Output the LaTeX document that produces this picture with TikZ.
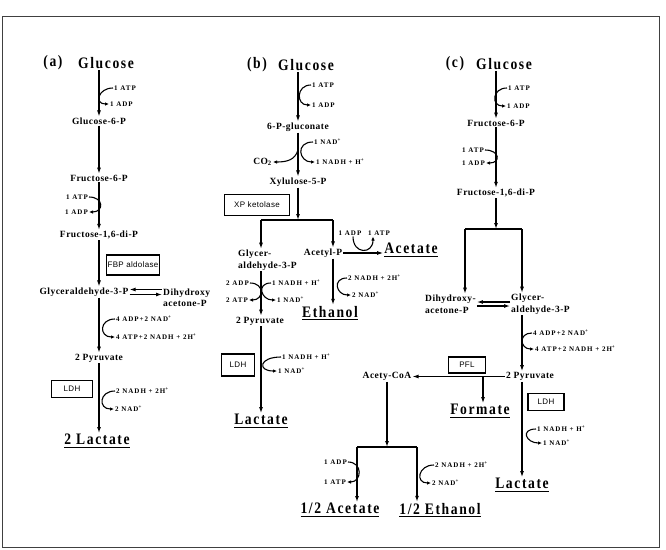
\documentclass[tikz,border=0pt]{standalone}
\usepackage{fontspec}
\setmainfont{Liberation Serif}
\newfontfamily\titlefont[LetterSpace=10, FakeStretch=0.85]{Liberation Serif}
\newfontfamily\metfont[LetterSpace=5]{Liberation Serif}
\newfontfamily\coffont[LetterSpace=14]{Liberation Serif}
\newfontfamily\enzfont[LetterSpace=4]{Liberation Sans}
\usepackage{tikz}
\usetikzlibrary{positioning,arrows.meta,calc}
\newcommand{\plusup}{\textsuperscript{+}}
\newcommand{\ulbar}[1]{\setbox0\hbox{#1}\leavevmode\rlap{\rule[-3pt]{\wd0}{1.2pt}}\box0}

\begin{document}
\begin{tikzpicture}[
      x=1pt, y=-1pt,
      title/.style={font=\titlefont\bfseries\fontsize{16}{18}\selectfont, inner sep=1pt},
      met/.style={font=\metfont\bfseries\fontsize{9.5}{11.5}\selectfont, inner sep=1pt, align=center},
      metl/.style={met, align=left, anchor=west},
      cof/.style={font=\coffont\bfseries\fontsize{7}{8}\selectfont, inner sep=1pt},
      enz/.style={draw, line width=1.1pt, font=\enzfont\fontsize{8}{10}\selectfont, inner sep=0pt},
      flow/.style={line width=1.1pt, -{Latex[length=6pt,width=4pt]}},
      bar/.style={line width=1.1pt},
      side/.style={line width=1.1pt, -{Latex[length=4pt,width=3.5pt]}},
      frame/.style={draw=black!75, line width=0.9pt},
  ]

  \useasboundingbox (0,0) rectangle (666,549);
  \draw[frame] (2,16) rectangle (659,547);

  % (a) homolactic path
  \node[title] (labA)  at ( 53, 63) {(a)};
  \node[title] (gluA)  at (106, 63) {Glucose};
  \node[cof, anchor=west] (atpA1) at (113, 88) {1 ATP};
  \node[cof, anchor=west] (adpA1) at (109,104) {1 ADP};
  \node[met]   (g6pA)  at ( 99,121) {Glucose-6-P};
  \node[met]   (f6pA)  at ( 99,178) {Fructose-6-P};
  \node[cof, anchor=east] (atpA2) at ( 89,197) {1 ATP};
  \node[cof, anchor=east] (adpA2) at ( 89,212) {1 ADP};
  \node[met]   (fdpA)  at ( 99,235) {Fructose-1,6-di-P};
  \node[enz, minimum width=53pt, minimum height=20pt] (fbpA) at (133,265) {FBP aldolase};
  \node[met]   (gapA)  at ( 84,292) {Glyceraldehyde-3-P};
  \node[metl]  (dhapA) at (162,297.5) {Dihydroxy\\acetone-P};
  \node[cof, anchor=west] (nadA1)  at (115,319) {4 ADP+2 NAD\plusup};
  \node[cof, anchor=west] (nadhA1) at (115,337) {4 ATP+2 NADH + 2H\plusup};
  \node[met]   (pyrA)  at ( 99,358) {2 Pyruvate};
  \node[enz, minimum width=41pt, minimum height=17pt] (ldhA) at ( 72,389) {LDH};
  \node[cof, anchor=west] (nadhA2) at (115,391) {2 NADH + 2H\plusup};
  \node[cof, anchor=west] (nadA2)  at (114,409) {2 NAD\plusup};
  \node[title] (lacA)  at ( 97,441) {\ulbar{2 Lactate}};

  \draw[flow] (gluA.south -| g6pA) -- (g6pA.north);
  \draw[flow] (g6pA.south) -- (f6pA.north);
  \draw[flow] (f6pA.south) -- (fdpA.north);
  \draw[flow] (fdpA.south) -- (fdpA.south |- gapA.north);
  \draw[flow] ([yshift=2.5pt]gapA.east -| dhapA.west) -- ([yshift=2.5pt]gapA.east);
  \draw[flow] ([yshift=-2.5pt]gapA.east) -- ([yshift=-2.5pt]gapA.east -| dhapA.west);
  \draw[flow] (gapA.south -| pyrA) -- (pyrA.north);
  \draw[flow] (pyrA.south) -- (pyrA.south |- lacA.north);
  \draw[side] (atpA1.west) .. controls +(-15,0) and +(-15,0) .. (adpA1.west);
  \draw[side] (atpA2.east) .. controls +(15,0) and +(15,0) .. (adpA2.east);
  \draw[side] (nadA1.west) .. controls +(-16,0) and +(-16,0) .. (nadhA1.west);
  \draw[side] (nadhA2.west) .. controls +(-16,0) and +(-16,0) .. (nadA2.west);

  % (b) phosphoketolase path
  \node[title] (labB)  at (257, 65) {(b)};
  \node[title] (gluB)  at (306, 65) {Glucose};
  \node[cof, anchor=west] (atpB1) at (311, 85) {1 ATP};
  \node[cof, anchor=west] (adpB1) at (311,105) {1 ADP};
  \node[met]   (gcnB)  at (298,127) {6-P-gluconate};
  \node[cof, anchor=west] (nadB1)  at (313,142) {1 NAD\plusup};
  \node[cof, anchor=west] (nadhB1) at (315,162) {1 NADH + H\plusup};
  \node[met, anchor=east] (co2B) at (273,162) {CO\textsubscript{2}};
  \node[met]   (xylB)  at (298,182) {Xylulose-5-P};
  \node[enz, minimum width=65pt, minimum height=21pt] (xpkB) at (257,205) {XP ketolase};
  \coordinate (barBl) at (261,220);
  \coordinate (barBr) at (333,220);
  \coordinate (tapB)  at (298,150);
  \node[metl]  (gapB)  at (237,260) {Glycer-\\aldehyde-3-P};
  \node[met]   (acpB)  at (323,253) {Acetyl-P};
  \node[cof]   (adpB2) at (350,233) {1 ADP};
  \node[cof]   (atpB2) at (379,233) {1 ATP};
  \node[title] (aceB)  at (411,250) {\ulbar{Acetate}};
  \node[cof, anchor=west] (nadhB2) at (347,278) {2 NADH + 2H\plusup};
  \node[cof, anchor=west] (nadB2)  at (351,295) {2 NAD\plusup};
  \node[title] (ethB)  at (330,313) {\ulbar{Ethanol}};
  \node[cof, anchor=east] (adpB3)  at (250,283) {2 ADP};
  \node[cof, anchor=east] (atpB3)  at (249,300) {2 ATP};
  \node[cof, anchor=west] (nadhB3) at (271,283) {1 NADH + H\plusup};
  \node[cof, anchor=west] (nadB3)  at (276,300) {1 NAD\plusup};
  \node[met]   (pyrB)  at (260,321) {2 Pyruvate};
  \node[enz, minimum width=33pt, minimum height=22pt] (ldhB) at (238,365) {LDH};
  \node[cof, anchor=west] (nadhB4) at (281,357) {1 NADH + H\plusup};
  \node[cof, anchor=west] (nadB4)  at (277,371) {1 NAD\plusup};
  \node[title] (lacB)  at (261,421) {\ulbar{Lactate}};

  \draw[flow] (gluB.south -| gcnB) -- (gcnB.north);
  \draw[flow] (gcnB.south) -- (gcnB.south |- xylB.north);
  \draw[flow] (xylB.south -| gcnB) -- (gcnB |- barBl);
  \draw[bar]  (barBl) -- (barBr);
  \draw[flow] (barBl) -- (barBl |- gapB.north);
  \draw[flow] (barBr) -- (barBr |- acpB.north);
  \draw[flow] (acpB.east) -- (acpB.east -| aceB.west);
  \draw[flow] (barBr |- acpB.south) -- (barBr |- ethB.north);
  \draw[flow] (barBl |- gapB.south) -- (barBl |- pyrB.north);
  \draw[flow] (barBl |- pyrB.south) -- (barBl |- lacB.north);
  \draw[side] (atpB1.west) .. controls +(-15,0) and +(-15,0) .. (adpB1.west);
  \draw[side] (nadB1.west) .. controls +(-18,0) and +(-16,0) .. (nadhB1.west);
  \draw[side] (tapB) .. controls +(-3,10) and +(14,0) .. (co2B.east);
  \draw[side] ([xshift=3pt]adpB2.south) .. controls +(0,18) and +(0,18) .. ([xshift=-6pt]atpB2.south);
  \draw[side] (nadhB2.west) .. controls +(-15,0) and +(-15,0) .. (nadB2.west);
  \draw[side] (adpB3.east) .. controls +(15,0) and +(15,0) .. (atpB3.east);
  \draw[side] (nadhB3.west) .. controls +(-15,0) and +(-15,0) .. (nadB3.west);
  \draw[side] (nadhB4.west) .. controls +(-22,0) and +(-20,0) .. (nadB4.west);

  % (c) mixed-acid path
  \node[title] (labC)  at (455, 64) {(c)};
  \node[title] (gluC)  at (504, 64) {Glucose};
  \node[cof, anchor=west] (atpC1) at (507, 88) {1 ATP};
  \node[cof, anchor=west] (adpC1) at (506,106) {1 ADP};
  \node[met]   (f6pC)  at (496,123) {Fructose-6-P};
  \node[cof, anchor=east] (atpC2) at (485,150) {1 ATP};
  \node[cof, anchor=east] (adpC2) at (486,163) {1 ADP};
  \node[met]   (fdpC)  at (496,193) {Fructose-1,6-di-P};
  \coordinate (barCl) at (465,229);
  \coordinate (barCr) at (522,229);
  \node[metl]  (dhapC) at (424,304) {Dihydroxy-\\acetone-P};
  \node[metl]  (gapC)  at (510,304) {Glycer-\\aldehyde-3-P};
  \node[cof, anchor=west] (nadC1)  at (532,333) {4 ADP+2 NAD\plusup};
  \node[cof, anchor=west] (nadhC1) at (534,349) {4 ATP+2 NADH + 2H\plusup};
  \node[met]   (pyrC)  at (530,376.5) {2 Pyruvate};
  \node[enz, minimum width=37pt, minimum height=16pt] (pflC) at (467,365) {PFL};
  \node[met]   (acoC)  at (387,376.5) {Acety-CoA};
  \coordinate (forkC) at (483,376.5);
  \node[title] (forC)  at (480,411) {\ulbar{Formate}};
  \node[enz, minimum width=36pt, minimum height=17pt] (ldhC) at (546,402) {LDH};
  \node[cof, anchor=west] (nadhC2) at (536,429) {1 NADH + H\plusup};
  \node[cof, anchor=west] (nadC2)  at (542,443) {1 NAD\plusup};
  \node[title] (lacC)  at (522,485) {\ulbar{Lactate}};

  % acetyl-CoA split
  \coordinate (barDl) at (357,447);
  \coordinate (barDr) at (417,447);
  \node[cof, anchor=east] (adpC3)  at (348,462) {1 ADP};
  \node[cof, anchor=east] (atpC3)  at (347,482) {1 ATP};
  \node[cof, anchor=west] (nadhC3) at (434,465) {2 NADH + 2H\plusup};
  \node[cof, anchor=west] (nadC3)  at (431,483) {2 NAD\plusup};
  \node[title] (aceC)  at (340,510) {\ulbar{1/2 Acetate}};
  \node[title] (ethC)  at (440,510) {\ulbar{1/2 Ethanol}};

  \draw[flow] (gluC.south -| f6pC) -- (f6pC.north);
  \draw[flow] (f6pC.south) -- (fdpC.north);
  \draw[flow] (fdpC.south) -- (fdpC.south |- barCl);
  \draw[bar]  (barCl) -- (barCr);
  \draw[flow] (barCl) -- (barCl |- dhapC.north);
  \draw[flow] (barCr) -- (barCr |- gapC.north);
  \draw[flow] ([yshift=2pt]gapC.west) -- ([yshift=2pt]gapC.west -| dhapC.east);
  \draw[flow] ([yshift=-2pt]dhapC.east) -- ([yshift=-2pt]dhapC.east -| gapC.west);
  \draw[flow] (barCr |- gapC.south) -- (barCr |- pyrC.north);
  \draw[flow] (pyrC.west) -- (acoC.east);
  \draw[flow] (forkC) -- (forkC |- forC.north);
  \draw[flow] (barCr |- pyrC.south) -- (barCr |- lacC.north);
  \draw[flow] (acoC.south) -- (acoC.south |- barDl);
  \draw[bar]  (barDl) -- (barDr);
  \draw[flow] (barDl) -- (barDl |- aceC.north);
  \draw[flow] (barDr) -- (barDr |- ethC.north);
  \draw[side] (atpC1.west) .. controls +(-15,0) and +(-15,0) .. (adpC1.west);
  \draw[side] (atpC2.east) .. controls +(15,0) and +(15,0) .. (adpC2.east);
  \draw[side] (nadC1.west) .. controls +(-14,0) and +(-14,0) .. (nadhC1.west);
  \draw[side] (nadhC2.west) .. controls +(-16,0) and +(-16,0) .. (nadC2.west);
  \draw[side] (adpC3.east) .. controls +(15,0) and +(15,0) .. (atpC3.east);
  \draw[side] (nadhC3.west) .. controls +(-16,0) and +(-16,0) .. (nadC3.west);

\end{tikzpicture}
\end{document}
